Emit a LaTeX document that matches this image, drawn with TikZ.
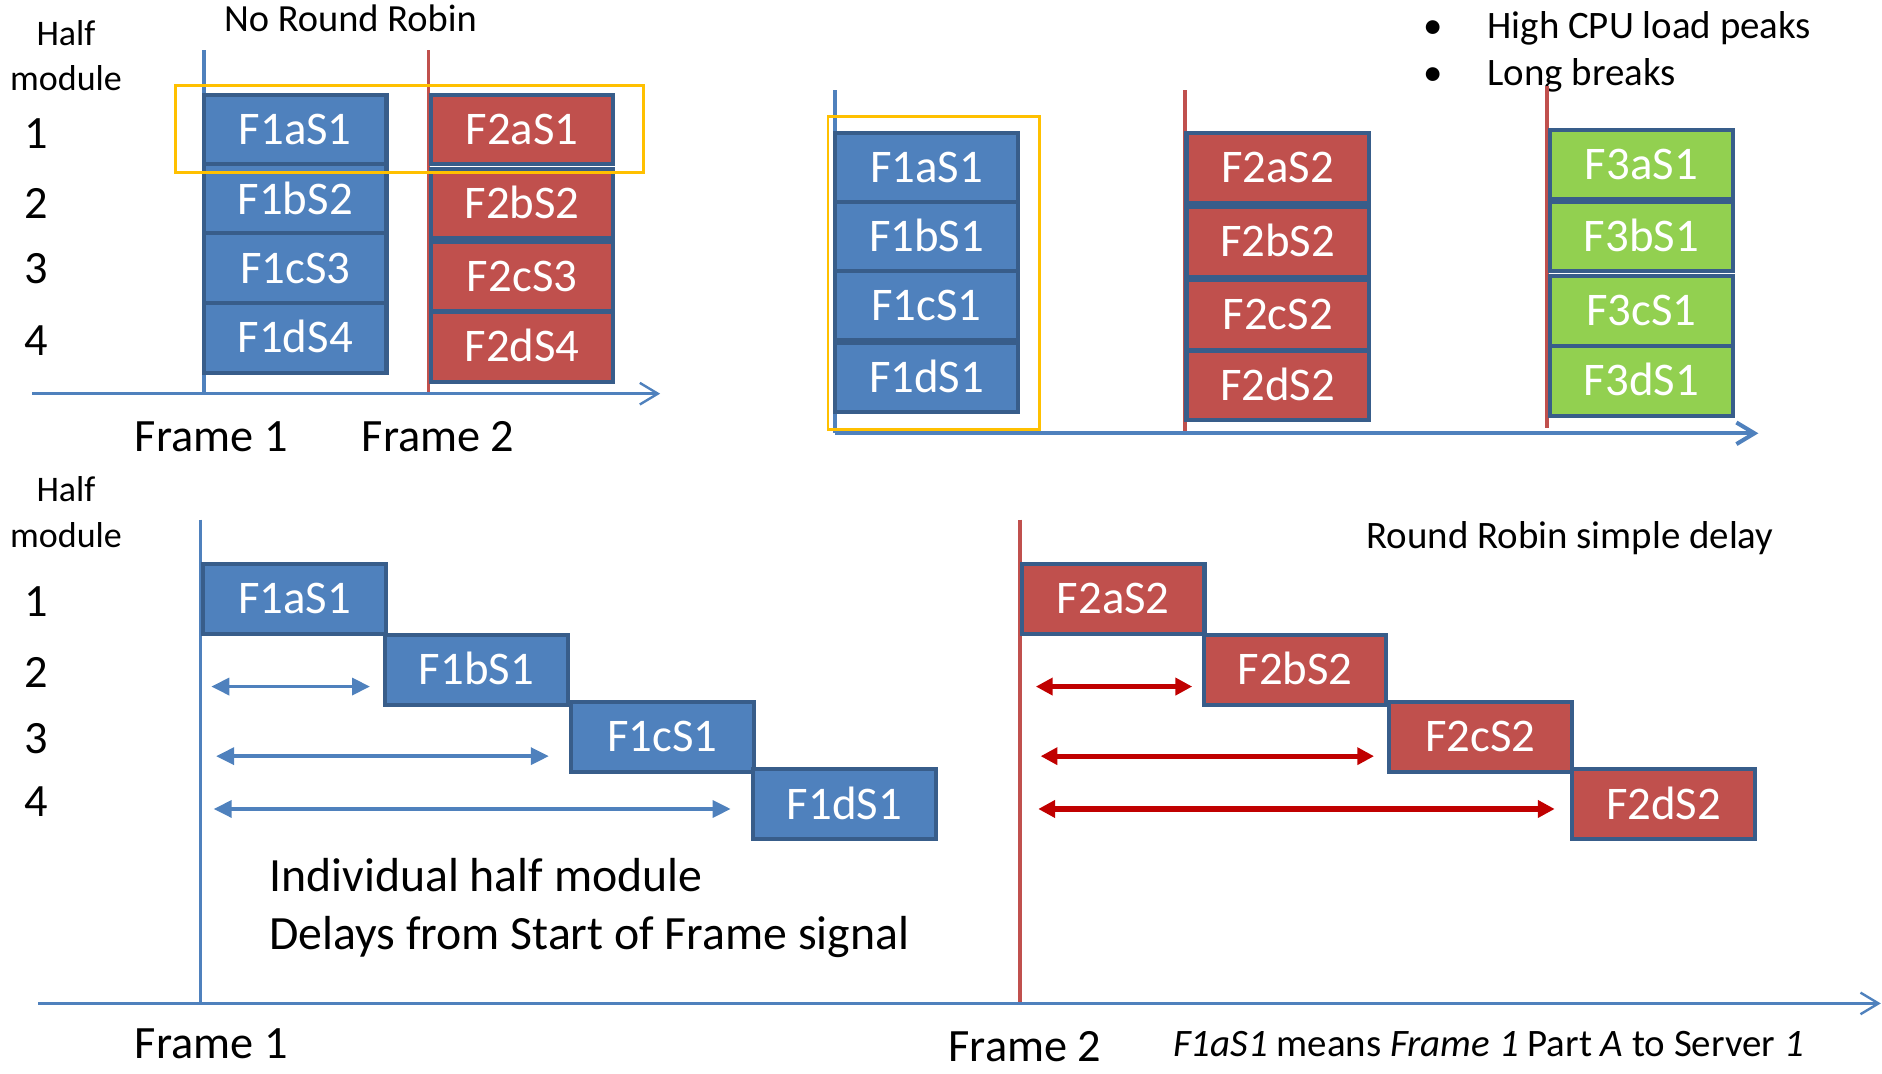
\documentclass[tikz,border=0pt]{standalone}
\usepackage{fontspec}
\setmainfont{Carlito}
\usetikzlibrary{arrows.meta}

\definecolor{boxblue}{HTML}{4F81BD}
\definecolor{boxred}{HTML}{C0504D}
\definecolor{boxgreen}{HTML}{92D050}
\definecolor{edgeblue}{HTML}{385D8A}
\definecolor{markyellow}{HTML}{FFC000}
\definecolor{arrowred}{HTML}{C00000}

\begin{document}
\begin{tikzpicture}[x=0.5pt,y=-0.5pt,
  slot/.style={draw=edgeblue, line width=1.7pt, text=white, inner sep=0pt,
    minimum width=76pt, minimum height=29pt,
    font=\fontsize{19.5}{23}\selectfont, text height=12.4pt, text depth=0pt},
  blueslot/.style={slot, fill=boxblue},
  redslot/.style={slot, fill=boxred},
  greenslot/.style={slot, fill=boxgreen},
  small/.style={inner sep=0pt, font=\fontsize{15}{18}\selectfont},
  note/.style={inner sep=0pt, font=\fontsize{16.2}{19}\selectfont},
  big/.style={inner sep=0pt, font=\fontsize{19.3}{23}\selectfont},
  bluestart/.style={draw=boxblue, line width=1.6pt},
  redstart/.style={draw=boxred, line width=1.6pt},
  timeaxis/.style={draw=boxblue, line width=1pt, -{Straight Barb[length=7.5pt,width=9pt]}},
  marker/.style={draw=markyellow, line width=1.2pt},
  bluedelay/.style={draw=boxblue, line width=1.6pt,
    {Triangle[length=7.5pt,width=7pt]}-{Triangle[length=7.5pt,width=7pt]}},
  reddelay/.style={draw=arrowred, line width=2.1pt,
    {Triangle[length=7pt,width=7pt]}-{Triangle[length=7pt,width=7pt]}}
]
\useasboundingbox (0,0) rectangle (1568,894);

% ---------------- no round robin: all parts of a frame at once ----------------
\node[small, anchor=base] (hA) at (55,38) {Half};
\node[small, anchor=base] (mA) at (55,75.6) {module};
\node[small, anchor=base, font=\fontsize{16}{19}\selectfont] (nrr) at (292,26.4) {No Round Robin};
\node[big, anchor=base] (rA1) at (30,123.6) {1};
\node[big, anchor=base] (rA2) at (30,182) {2};
\node[big, anchor=base] (rA3) at (30,236) {3};
\node[big, anchor=base] (rA4) at (30,296) {4};

\coordinate (axAs) at (27,328);
\coordinate (axAe) at (550,328);
\coordinate (f1At) at (170,42);
\coordinate (f2At) at (357,42);
\draw[bluestart] (f1At) -- (f1At |- axAs);
\draw[redstart] (f2At) -- (f2At |- axAs);
\draw[timeaxis] (axAs) -- (axAe);

\node[blueslot] (A1a) at (246,108) {F1aS1};
\node[blueslot] (A1b) at (246,166) {F1bS2};
\node[blueslot] (A1c) at (246,223.5) {F1cS3};
\node[blueslot] (A1d) at (246,281.5) {F1dS4};
\node[redslot] (A2a) at (435,108) {F2aS1};
\node[redslot] (A2b) at (435,169.5) {F2bS2};
\node[redslot] (A2c) at (435,230.5) {F2cS3};
\node[redslot] (A2d) at (435,289) {F2dS4};
\draw[marker] (146,71) rectangle (536,144);

\node[big, anchor=base west] (frA1) at (112,376) {Frame 1};
\node[big, anchor=base west] (frA2) at (301,376) {Frame 2};

% ---------------- one server per frame ----------------
\node[note, anchor=base] (b1) at (1194,32) {•};
\node[note, anchor=base west] (t1) at (1239,32) {High CPU load peaks};
\node[note, anchor=base] (b2) at (1194,71.5) {•};
\node[note, anchor=base west] (t2) at (1239,71.5) {Long breaks};

\coordinate (axBs) at (696,361);
\coordinate (axBe) at (1465,361);
\coordinate (f1Bt) at (696,75);
\coordinate (f2Bt) at (987,75);
\coordinate (f3Bt) at (1289,72);
\draw[bluestart] (f1Bt) -- (f1Bt |- axBs);
\draw[redstart] (f2Bt) -- (f2Bt |- axBs);
\draw[redstart] (f3Bt) -- ([yshift=2pt]f3Bt |- axBs);
\draw[timeaxis, line width=1.7pt] (axBs) -- (axBe);

\node[blueslot] (B1a) at (772,139.5) {F1aS1};
\node[blueslot] (B1b) at (772,197) {F1bS1};
\node[blueslot] (B1c) at (772,254.5) {F1cS1};
\node[blueslot] (B1d) at (772,314.5) {F1dS1};
\node[redslot] (B2a) at (1064.5,140) {F2aS2};
\node[redslot] (B2b) at (1064.5,201.5) {F2bS2};
\node[redslot] (B2c) at (1064.5,262.5) {F2cS2};
\node[redslot] (B2d) at (1064.5,321) {F2dS2};
\node[greenslot] (B3a) at (1367.5,137) {F3aS1};
\node[greenslot] (B3b) at (1367.5,197) {F3bS1};
\node[greenslot] (B3c) at (1367.5,259) {F3cS1};
\node[greenslot] (B3d) at (1367.5,317.5) {F3dS1};
\draw[marker, line width=1pt] (690,97) rectangle (866,358);

% ---------------- round robin with simple delays ----------------
\node[small, anchor=base] (hC) at (55,418) {Half};
\node[small, anchor=base] (mC) at (55,456) {module};
\node[big, anchor=base] (rC1) at (30,513.6) {1};
\node[big, anchor=base] (rC2) at (30,572.6) {2};
\node[big, anchor=base] (rC3) at (30,627.6) {3};
\node[big, anchor=base] (rC4) at (30,680.6) {4};
\node[note, anchor=base west] (rrd) at (1138,457) {Round Robin simple delay};

\coordinate (axCs) at (32,836);
\coordinate (axCe) at (1567,836);
\coordinate (f1Ct) at (167,433);
\coordinate (f2Ct) at (850,433);
\draw[bluestart] (f1Ct) -- (f1Ct |- axCs);
\draw[redstart] (f2Ct) -- (f2Ct |- axCs);
\draw[timeaxis] (axCs) -- (axCe);

\node[blueslot] (C1a) at (245.5,499) {F1aS1};
\node[blueslot] (C1b) at (397,558) {F1bS1};
\node[blueslot] (C1c) at (552,614) {F1cS1};
\node[blueslot] (C1d) at (703.5,670) {F1dS1};
\node[redslot] (C2a) at (927.5,499) {F2aS2};
\node[redslot] (C2b) at (1079,558) {F2bS2};
\node[redslot] (C2c) at (1233.5,614) {F2cS2};
\node[redslot] (C2d) at (1386,670) {F2dS2};

% delays measured from the start of each frame
\coordinate (d1b) at (176,572);
\coordinate (d1c) at (180,630);
\coordinate (d1d) at (178,674);
\draw[bluedelay] (d1b) -- ([xshift=-5.5pt]C1b.west |- d1b);
\draw[bluedelay] (d1c) -- ([xshift=-8.5pt]C1c.west |- d1c);
\draw[bluedelay] (d1d) -- ([xshift=-8.5pt]C1d.west |- d1d);
\coordinate (d2b) at (863,572);
\coordinate (d2c) at (867,630);
\coordinate (d2d) at (865,674);
\draw[reddelay] (d2b) -- ([xshift=-4pt]C2b.west |- d2b);
\draw[reddelay] (d2c) -- ([xshift=-5.5pt]C2c.west |- d2c);
\draw[reddelay] (d2d) -- ([xshift=-6.5pt]C2d.west |- d2d);

\node[big, anchor=base west, font=\fontsize{19.9}{23}\selectfont] (ind1) at (224,743) {Individual half module};
\node[big, anchor=base west, font=\fontsize{19.9}{23}\selectfont] (ind2) at (224,791) {Delays from Start of Frame signal};

\node[big, anchor=base west] (frC1) at (112,882) {Frame 1};
\node[big, anchor=base west] (frC2) at (790,884) {Frame 2};
\node[note, anchor=base west] (legend) at (977,880)
  {\textit{F1aS1} means \textit{Frame 1} Part \textit{A} to Server \textit{1}};
\end{tikzpicture}
\end{document}
